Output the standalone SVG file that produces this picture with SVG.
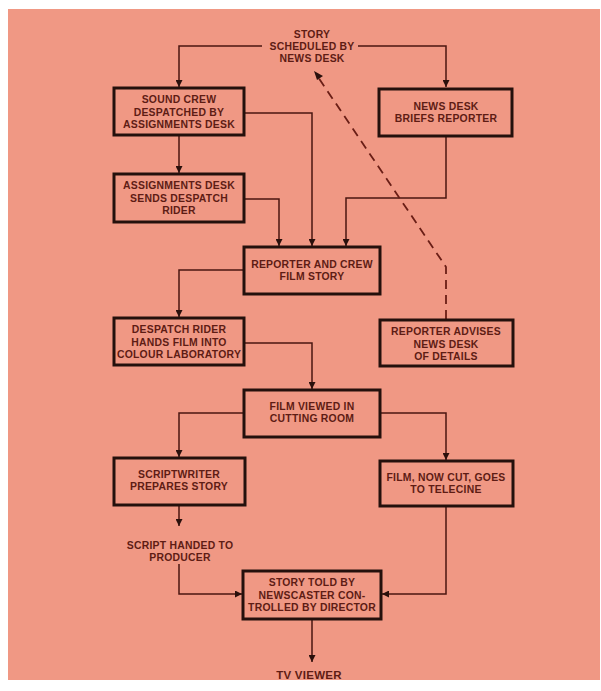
<svg xmlns="http://www.w3.org/2000/svg" width="601" height="691" viewBox="0 0 601 691">
<style>
.bg{fill:#f09884}
.box{fill:#f09884;stroke:#24100c;stroke-width:3}
.t{font-family:"Liberation Sans",Arial,sans-serif;font-weight:bold;font-size:10.4px;letter-spacing:0.25px;fill:#5e1c14;text-anchor:middle}
.ln{fill:none;stroke:#4a1610;stroke-width:1.5}
.dash{fill:none;stroke:#6a1e16;stroke-width:1.8;stroke-dasharray:9 6}
</style>
<defs>
<marker id="ah" viewBox="0 0 10 10" refX="10" refY="5" markerWidth="7" markerHeight="7" markerUnits="userSpaceOnUse" orient="auto">
<path d="M0,0 L10,5 L0,10 z" fill="#2a100c"/>
</marker>
</defs>
<rect width="601" height="691" fill="#ffffff"/>
<rect class="bg" x="8" y="9" width="592" height="671"/>

<g id="connectors">
<path class="ln" d="M262,46 H179 V87" marker-end="url(#ah)"/>
<path class="ln" d="M358,46 H446 V87" marker-end="url(#ah)"/>
<path class="ln" d="M179,135 V173" marker-end="url(#ah)"/>
<path class="ln" d="M244,113 H312 V246" marker-end="url(#ah)"/>
<path class="ln" d="M244,199 H279 V246" marker-end="url(#ah)"/>
<path class="ln" d="M446,136 V198 H346 V246" marker-end="url(#ah)"/>
<path class="ln" d="M244,270 H179 V317" marker-end="url(#ah)"/>
<path class="ln" d="M244,343 H312 V389" marker-end="url(#ah)"/>
<path class="ln" d="M244,413 H179 V457" marker-end="url(#ah)"/>
<path class="ln" d="M380,413 H446 V460" marker-end="url(#ah)"/>
<path class="ln" d="M179,505 V526" marker-end="url(#ah)"/>
<path class="ln" d="M179,564 V594 H242" marker-end="url(#ah)"/>
<path class="ln" d="M446,506 V594 H382" marker-end="url(#ah)"/>
<path class="ln" d="M312,619 V662" marker-end="url(#ah)"/>
<path class="dash" d="M446,319 V267 L318,77"/>
<path d="M314,71 L323,76 L317,80 z" fill="#2a100c"/>
</g>

<g id="story-scheduled">
<text class="t" x="312" y="38">STORY</text>
<text class="t" x="312" y="50">SCHEDULED BY</text>
<text class="t" x="312" y="62">NEWS DESK</text>
</g>

<g id="sound-crew">
<rect class="box" x="114" y="88" width="130" height="47"/>
<text class="t" x="179" y="103">SOUND CREW</text>
<text class="t" x="179" y="115.5">DESPATCHED BY</text>
<text class="t" x="179" y="128">ASSIGNMENTS DESK</text>
</g>

<g id="news-desk">
<rect class="box" x="379" y="89" width="133" height="47"/>
<text class="t" x="446" y="110">NEWS DESK</text>
<text class="t" x="446" y="122">BRIEFS REPORTER</text>
</g>

<g id="assignments-desk">
<rect class="box" x="114" y="174" width="130" height="48"/>
<text class="t" x="179" y="189">ASSIGNMENTS DESK</text>
<text class="t" x="179" y="201.5">SENDS DESPATCH</text>
<text class="t" x="179" y="214">RIDER</text>
</g>

<g id="reporter-crew">
<rect class="box" x="244" y="247" width="136" height="47"/>
<text class="t" x="312" y="268">REPORTER AND CREW</text>
<text class="t" x="312" y="280">FILM STORY</text>
</g>

<g id="despatch-rider">
<rect class="box" x="114" y="318" width="130" height="47"/>
<text class="t" x="179" y="333">DESPATCH RIDER</text>
<text class="t" x="179" y="345.5">HANDS FILM INTO</text>
<text class="t" x="179" y="358">COLOUR LABORATORY</text>
</g>

<g id="reporter-advises">
<rect class="box" x="380" y="320" width="133" height="46"/>
<text class="t" x="446" y="335">REPORTER ADVISES</text>
<text class="t" x="446" y="347.5">NEWS DESK</text>
<text class="t" x="446" y="360">OF DETAILS</text>
</g>

<g id="film-viewed">
<rect class="box" x="244" y="390" width="136" height="47"/>
<text class="t" x="312" y="410">FILM VIEWED IN</text>
<text class="t" x="312" y="422">CUTTING ROOM</text>
</g>

<g id="scriptwriter">
<rect class="box" x="114" y="458" width="131" height="47"/>
<text class="t" x="179" y="478">SCRIPTWRITER</text>
<text class="t" x="179" y="490">PREPARES STORY</text>
</g>

<g id="film-cut">
<rect class="box" x="380" y="461" width="133" height="45"/>
<text class="t" x="446" y="481">FILM, NOW CUT, GOES</text>
<text class="t" x="446" y="493">TO TELECINE</text>
</g>

<g id="script-handed">
<text class="t" x="180" y="549">SCRIPT HANDED TO</text>
<text class="t" x="180" y="561">PRODUCER</text>
</g>

<g id="story-told">
<rect class="box" x="243" y="571" width="138" height="48"/>
<text class="t" x="312" y="586">STORY TOLD BY</text>
<text class="t" x="312" y="598.5">NEWSCASTER CON-</text>
<text class="t" x="312" y="611">TROLLED BY DIRECTOR</text>
</g>

<g id="tv-viewer">
<text class="t" x="309" y="679" style="font-size:11.5px">TV VIEWER</text>
</g>
</svg>
